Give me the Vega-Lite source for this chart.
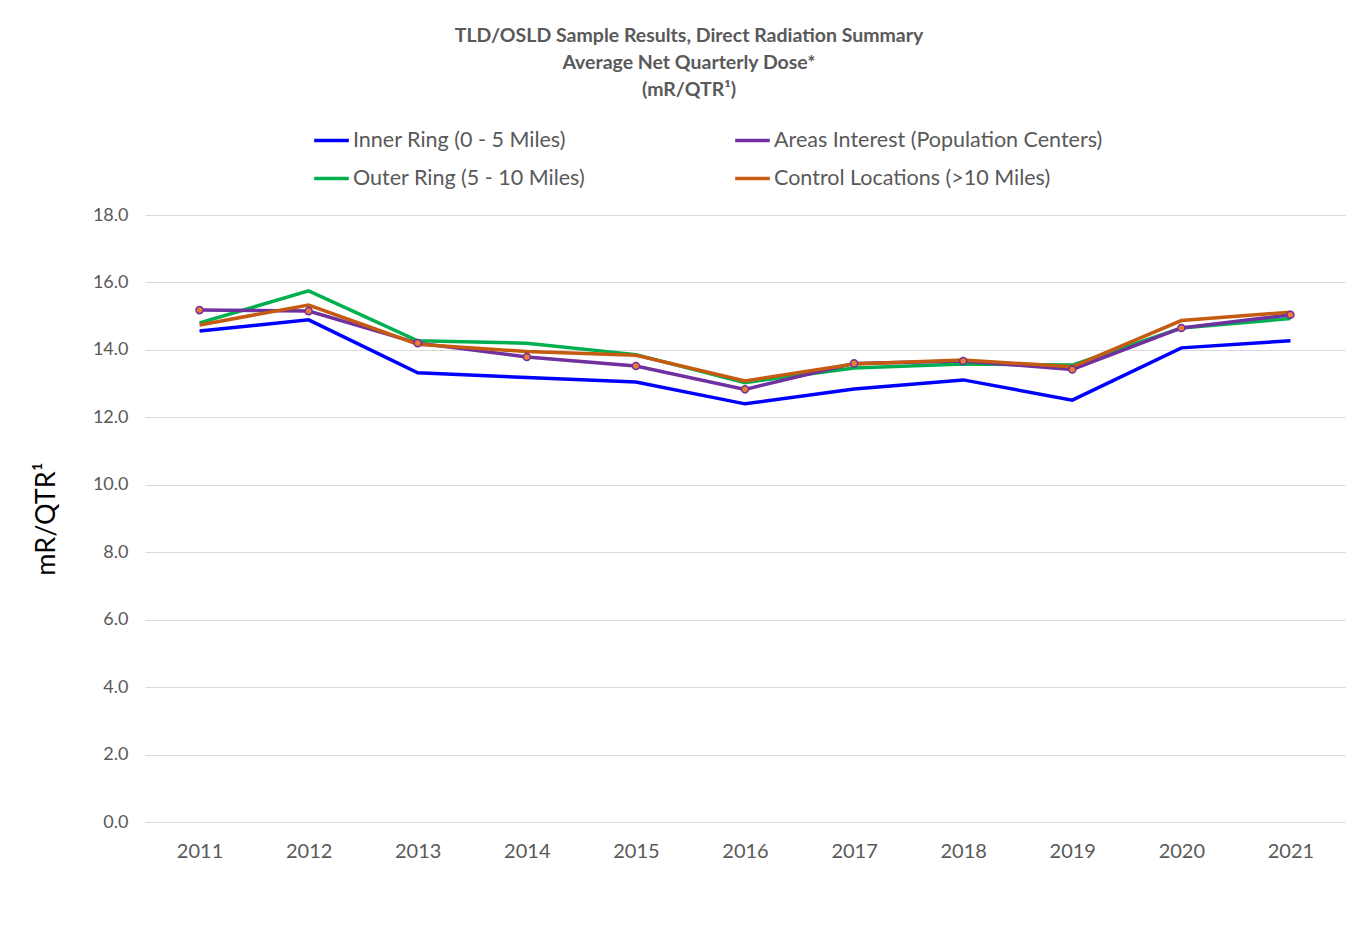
{
  "$schema": "https://vega.github.io/schema/vega-lite/v6.json",
  "width": 1200,
  "height": 607,
  "autosize": {"type": "none"},
  "padding": {"left": 145, "top": 215, "right": 11, "bottom": 104},
  "background": "white",
  "config": {
    "font": "Lato",
    "view": {"stroke": null}
  },
  "title": {
    "text": ["TLD/OSLD Sample Results, Direct Radiation Summary", "Average Net Quarterly Dose*", "(mR/QTR¹)"],
    "anchor": "middle",
    "frame": "group",
    "dx": -56,
    "fontSize": 19.5,
    "fontWeight": "bold",
    "color": "#595959",
    "lineHeight": 27,
    "offset": 21
  },
  "data": {
    "values": [
      {"year": "2011", "series": "Inner Ring (0 - 5 Miles)", "value": 14.56},
      {"year": "2012", "series": "Inner Ring (0 - 5 Miles)", "value": 14.89},
      {"year": "2013", "series": "Inner Ring (0 - 5 Miles)", "value": 13.32},
      {"year": "2014", "series": "Inner Ring (0 - 5 Miles)", "value": 13.18},
      {"year": "2015", "series": "Inner Ring (0 - 5 Miles)", "value": 13.05},
      {"year": "2016", "series": "Inner Ring (0 - 5 Miles)", "value": 12.4},
      {"year": "2017", "series": "Inner Ring (0 - 5 Miles)", "value": 12.84},
      {"year": "2018", "series": "Inner Ring (0 - 5 Miles)", "value": 13.11},
      {"year": "2019", "series": "Inner Ring (0 - 5 Miles)", "value": 12.51},
      {"year": "2020", "series": "Inner Ring (0 - 5 Miles)", "value": 14.06},
      {"year": "2021", "series": "Inner Ring (0 - 5 Miles)", "value": 14.27},
      {"year": "2011", "series": "Outer Ring (5 - 10 Miles)", "value": 14.8},
      {"year": "2012", "series": "Outer Ring (5 - 10 Miles)", "value": 15.75},
      {"year": "2013", "series": "Outer Ring (5 - 10 Miles)", "value": 14.27},
      {"year": "2014", "series": "Outer Ring (5 - 10 Miles)", "value": 14.2},
      {"year": "2015", "series": "Outer Ring (5 - 10 Miles)", "value": 13.86},
      {"year": "2016", "series": "Outer Ring (5 - 10 Miles)", "value": 13.03},
      {"year": "2017", "series": "Outer Ring (5 - 10 Miles)", "value": 13.46},
      {"year": "2018", "series": "Outer Ring (5 - 10 Miles)", "value": 13.58},
      {"year": "2019", "series": "Outer Ring (5 - 10 Miles)", "value": 13.55},
      {"year": "2020", "series": "Outer Ring (5 - 10 Miles)", "value": 14.65},
      {"year": "2021", "series": "Outer Ring (5 - 10 Miles)", "value": 14.93},
      {"year": "2011", "series": "Areas Interest (Population Centers)", "value": 15.18},
      {"year": "2012", "series": "Areas Interest (Population Centers)", "value": 15.15},
      {"year": "2013", "series": "Areas Interest (Population Centers)", "value": 14.2},
      {"year": "2014", "series": "Areas Interest (Population Centers)", "value": 13.79},
      {"year": "2015", "series": "Areas Interest (Population Centers)", "value": 13.52},
      {"year": "2016", "series": "Areas Interest (Population Centers)", "value": 12.83},
      {"year": "2017", "series": "Areas Interest (Population Centers)", "value": 13.6},
      {"year": "2018", "series": "Areas Interest (Population Centers)", "value": 13.67},
      {"year": "2019", "series": "Areas Interest (Population Centers)", "value": 13.42},
      {"year": "2020", "series": "Areas Interest (Population Centers)", "value": 14.65},
      {"year": "2021", "series": "Areas Interest (Population Centers)", "value": 15.04},
      {"year": "2011", "series": "Control Locations (>10 Miles)", "value": 14.74},
      {"year": "2012", "series": "Control Locations (>10 Miles)", "value": 15.33},
      {"year": "2013", "series": "Control Locations (>10 Miles)", "value": 14.17},
      {"year": "2014", "series": "Control Locations (>10 Miles)", "value": 13.95},
      {"year": "2015", "series": "Control Locations (>10 Miles)", "value": 13.84},
      {"year": "2016", "series": "Control Locations (>10 Miles)", "value": 13.08},
      {"year": "2017", "series": "Control Locations (>10 Miles)", "value": 13.58},
      {"year": "2018", "series": "Control Locations (>10 Miles)", "value": 13.7},
      {"year": "2019", "series": "Control Locations (>10 Miles)", "value": 13.5},
      {"year": "2020", "series": "Control Locations (>10 Miles)", "value": 14.87},
      {"year": "2021", "series": "Control Locations (>10 Miles)", "value": 15.12}
    ]
  },
  "encoding": {
    "x": {
      "field": "year",
      "type": "ordinal",
      "scale": {"type": "point", "padding": 0.5},
      "axis": {
        "title": null,
        "labelAngle": 0,
        "labelFontSize": 20,
        "labelColor": "#595959",
        "labelPadding": 19,
        "ticks": false,
        "domain": false,
        "grid": false
      }
    },
    "y": {
      "field": "value",
      "type": "quantitative",
      "scale": {"domain": [0, 18], "nice": false},
      "axis": {
        "title": "mR/QTR¹",
        "titleFontSize": 27,
        "titleFontWeight": "normal",
        "titleColor": "#000000",
        "titlePadding": 32,
        "values": [0, 2, 4, 6, 8, 10, 12, 14, 16, 18],
        "format": ".1f",
        "labelFontSize": 18,
        "labelColor": "#595959",
        "labelPadding": 17,
        "ticks": false,
        "domain": false,
        "gridColor": "#d9d9d9",
        "gridWidth": 1
      }
    }
  },
  "layer": [
    {
      "mark": {"type": "line", "strokeWidth": 3.5},
      "encoding": {
        "color": {
          "field": "series",
          "type": "nominal",
          "scale": {
            "domain": ["Inner Ring (0 - 5 Miles)", "Outer Ring (5 - 10 Miles)", "Areas Interest (Population Centers)", "Control Locations (>10 Miles)"],
            "range": ["#0000FF", "#00B050", "#7030A0", "#C55A11"]
          },
          "legend": {
            "title": null,
            "orient": "none",
            "legendX": 167,
            "legendY": -94,
            "columns": 2,
            "columnPadding": 142,
            "rowPadding": 8,
            "symbolType": "stroke",
            "symbolSize": 1200,
            "symbolStrokeWidth": 3.5,
            "labelFontSize": 21.5,
            "labelColor": "#595959",
            "labelOffset": 2,
            "labelLimit": 450
          }
        },
        "detail": {"field": "series"}
      }
    },
    {
      "transform": [{"filter": "datum.series === 'Areas Interest (Population Centers)'"}],
      "mark": {"type": "point", "filled": true, "fill": "#ED7D31", "stroke": "#7030A0", "strokeWidth": 1.5, "size": 50, "opacity": 1}
    }
  ]
}
